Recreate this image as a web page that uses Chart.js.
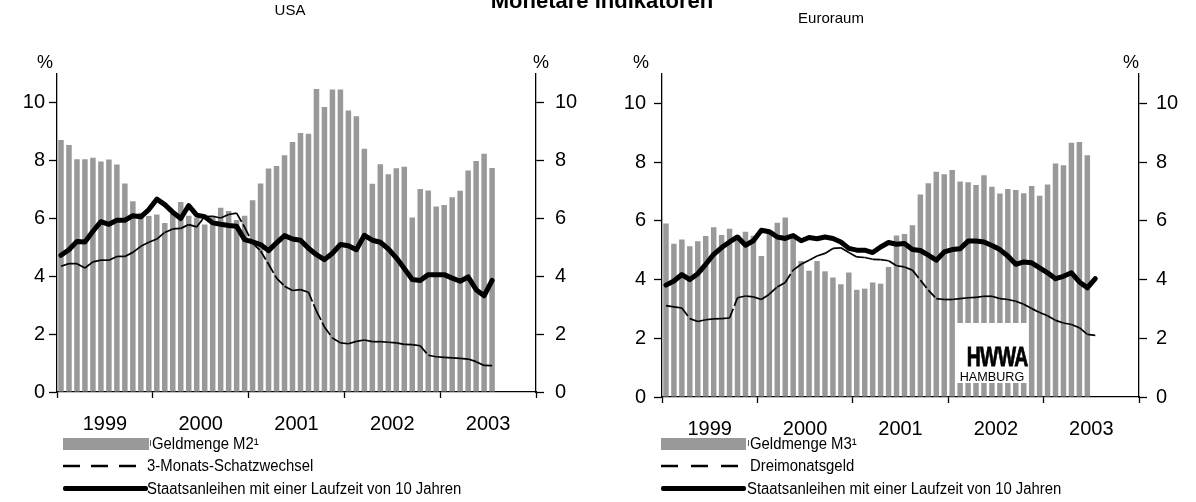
<!DOCTYPE html>
<html>
<head>
<meta charset="utf-8">
<script src="https://cdn.jsdelivr.net/npm/chart.js@4.4.1/dist/chart.umd.min.js"></script>
<style>
  body { margin: 0; width: 1196px; height: 502px; position: relative; overflow: hidden; background: #fff;
         font-family: "Liberation Sans", Arial, Helvetica, sans-serif; color: #000; }
  canvas { position: absolute; top: 0; }
  .txt { position: absolute; white-space: nowrap; line-height: 20px; }
  .leg { font-size: 16px; transform: scaleX(0.93); transform-origin: left center; }
  .mark { position: absolute; }
</style>
</head>
<body>
<canvas id="usaChart" width="598" height="502" style="left:0"></canvas>
<canvas id="euroChart" width="598" height="502" style="left:598px"></canvas>

<div class="txt" style="left:2px; width:1200px; text-align:center; top:-10px; font-weight:bold; font-size:22px; line-height:22px">Monetäre Indikatoren</div>
<div class="txt" style="left:190px; width:200px; text-align:center; top:0px; font-size:15px">USA</div>
<div class="txt" style="left:731px; width:200px; text-align:center; top:8px; font-size:15px">Euroraum</div>

<div class="txt" style="left:15px; width:60px; text-align:center; top:52px; font-size:18px">%</div>
<div class="txt" style="left:511px; width:60px; text-align:center; top:52px; font-size:18px">%</div>
<div class="txt" style="left:611px; width:60px; text-align:center; top:52px; font-size:18px">%</div>
<div class="txt" style="left:1101px; width:60px; text-align:center; top:52px; font-size:18px">%</div>

<!-- legends -->
<div class="mark" style="left:63px; top:438px; width:86px; height:12px; background:#999"></div>
<div class="mark" style="left:150px; top:440px; width:1px; height:6px; background:#555"></div>
<div class="txt leg" style="left:152px; top:434px">Geldmenge M2¹</div>
<svg class="mark" style="left:63px; top:461px" width="90" height="10"><line x1="0" y1="5" x2="78" y2="5" stroke="#000" stroke-width="2.5" stroke-dasharray="17 11"/></svg>
<div class="txt leg" style="left:147px; top:456px">3-Monats-Schatzwechsel</div>
<div class="mark" style="left:63px; top:486px; width:85px; height:5px; background:#000; border-radius:2px"></div>
<div class="txt leg" style="left:147px; top:479px">Staatsanleihen mit einer Laufzeit von 10 Jahren</div>

<div class="mark" style="left:661px; top:438px; width:85px; height:12px; background:#999"></div>
<div class="mark" style="left:748px; top:440px; width:1px; height:6px; background:#555"></div>
<div class="txt leg" style="left:750px; top:434px">Geldmenge M3¹</div>
<svg class="mark" style="left:661px; top:461px" width="90" height="10"><line x1="0" y1="5" x2="79" y2="5" stroke="#000" stroke-width="2.5" stroke-dasharray="17 13"/></svg>
<div class="txt leg" style="left:750px; top:456px">Dreimonatsgeld</div>
<div class="mark" style="left:661px; top:486px; width:85px; height:5px; background:#000; border-radius:2px"></div>
<div class="txt leg" style="left:747px; top:479px">Staatsanleihen mit einer Laufzeit von 10 Jahren</div>

<!-- HWWA logo -->
<div class="mark" style="left:957px; top:323px; width:70px; height:60px; background:#fff"></div>
<div class="txt" style="left:957px; width:70px; text-align:center; top:344px; font-size:27px; font-weight:bold; line-height:27px; letter-spacing:-1px; -webkit-text-stroke:0.8px #000; transform:scaleX(0.72)">HWWA</div>
<div class="txt" style="left:957px; width:70px; text-align:center; top:370px; font-size:13px; line-height:13px; transform:scaleX(0.97)">HAMBURG</div>

<script>
// Monatswerte Januar 1999 bis Juli 2003 (in %)
const yearLabels = ['1999', '2000', '2001', '2002', '2003']
const yTicks = [0, 2, 4, 6, 8, 10]

const usaM2 = [8.72, 8.54, 8.05, 8.05, 8.10, 7.97, 8.04, 7.87, 7.21, 6.60,
    6.20, 6.09, 6.14, 5.85, 6.25, 6.57, 6.10, 6.03, 5.79, 6.10,
    6.37, 6.26, 5.95, 6.10, 6.63, 7.21, 7.73, 7.82, 8.19, 8.65,
    8.96, 8.93, 10.48, 9.86, 10.46, 10.46, 9.74, 9.54, 8.41, 7.20,
    7.88, 7.53, 7.74, 7.79, 6.04, 7.02, 6.97, 6.42, 6.47, 6.74,
    6.96, 7.66, 7.99, 8.24, 7.75]
const usaBill = [4.35, 4.44, 4.44, 4.29, 4.50, 4.56, 4.56, 4.69, 4.69, 4.83,
    5.04, 5.18, 5.29, 5.52, 5.64, 5.66, 5.79, 5.71, 6.07, 6.08,
    6.02, 6.14, 6.19, 5.70, 5.15, 4.88, 4.42, 3.94, 3.66, 3.51,
    3.54, 3.45, 2.80, 2.25, 1.87, 1.70, 1.67, 1.75, 1.80, 1.74,
    1.74, 1.72, 1.70, 1.65, 1.64, 1.60, 1.27, 1.22, 1.20, 1.18,
    1.16, 1.14, 1.05, 0.92, 0.91]
const usaBond = [4.73, 4.92, 5.21, 5.19, 5.56, 5.89, 5.80, 5.94, 5.94, 6.10,
    6.06, 6.31, 6.67, 6.48, 6.22, 6.00, 6.45, 6.12, 6.06, 5.85,
    5.80, 5.76, 5.73, 5.27, 5.19, 5.10, 4.89, 5.16, 5.41, 5.29,
    5.25, 4.97, 4.75, 4.58, 4.80, 5.10, 5.06, 4.92, 5.42, 5.25,
    5.18, 4.95, 4.64, 4.27, 3.89, 3.86, 4.06, 4.06, 4.06, 3.94,
    3.83, 3.98, 3.54, 3.33, 3.86]

const euroM3 = [5.91, 5.22, 5.36, 5.13, 5.30, 5.48, 5.78, 5.52, 5.73, 5.50,
    5.63, 5.49, 4.80, 5.65, 5.93, 6.11, 5.45, 4.63, 4.30, 4.63,
    4.28, 4.07, 3.84, 4.24, 3.65, 3.69, 3.90, 3.86, 4.43, 5.50,
    5.55, 5.85, 6.90, 7.28, 7.67, 7.59, 7.73, 7.34, 7.31, 7.22,
    7.55, 7.16, 6.93, 7.08, 7.05, 6.94, 7.19, 6.85, 7.24, 7.95,
    7.89, 8.66, 8.68, 8.23]
const euroMoney = [3.11, 3.07, 3.03, 2.67, 2.57, 2.63, 2.66, 2.67, 2.69, 3.38,
    3.44, 3.41, 3.32, 3.50, 3.75, 3.90, 4.32, 4.52, 4.66, 4.80,
    4.89, 5.06, 5.08, 4.92, 4.77, 4.75, 4.69, 4.68, 4.64, 4.47,
    4.43, 4.32, 3.98, 3.64, 3.35, 3.32, 3.32, 3.35, 3.38, 3.39,
    3.43, 3.43, 3.35, 3.32, 3.26, 3.16, 3.01, 2.88, 2.77, 2.61,
    2.52, 2.47, 2.36, 2.13, 2.10]
const euroBond = [3.81, 3.95, 4.17, 4.00, 4.20, 4.52, 4.86, 5.09, 5.28, 5.45,
    5.17, 5.32, 5.68, 5.63, 5.45, 5.40, 5.50, 5.32, 5.43, 5.39,
    5.45, 5.40, 5.28, 5.06, 5.00, 5.00, 4.92, 5.11, 5.26, 5.20,
    5.23, 5.02, 4.99, 4.83, 4.66, 4.94, 5.02, 5.05, 5.31, 5.31,
    5.28, 5.16, 5.02, 4.80, 4.52, 4.60, 4.57, 4.40, 4.23, 4.03,
    4.11, 4.23, 3.92, 3.72, 4.03]

const fontFamily = '"Liberation Sans", Arial, Helvetica, sans-serif'

// Monat i liegt in der Mitte des i-ten Monatsfeldes
function toPoints(values) {
    return values.map((v, i) => ({ x: i + 0.5, y: v }))
}

function drawPanel(canvasId, bars, bill, bond, box) {
    const yAxis = (position, width, padding) => ({
        position: position,
        min: 0,
        max: 11,
        afterBuildTicks: s => { s.ticks = yTicks.map(v => ({ value: v })) },
        afterFit: s => { s.width = width },
        grid: { drawOnChartArea: false, tickLength: 8, tickColor: '#000', tickWidth: 1.3 },
        border: { color: '#000', width: 1.3 },
        ticks: { padding: padding, color: '#000', font: { size: 20, family: fontFamily } }
    })

    new Chart(canvasId, {
        type: 'bar',
        data: {
            datasets: [
                {
                    type: 'line', data: toPoints(bond), yAxisID: 'y',
                    borderColor: '#000', borderWidth: 5, pointRadius: 0, tension: 0,
                    borderJoinStyle: 'round', borderCapStyle: 'round', order: 1
                },
                {
                    type: 'line', data: toPoints(bill), yAxisID: 'y',
                    borderColor: '#000', borderWidth: 1.7, pointRadius: 0, tension: 0,
                    borderDash: [10, 3],
                    // Strichmuster beginnt bei jedem Teilstück neu
                    segment: { borderDashOffset: c => (c.p0DataIndex % 2 ? 0.01 : 0) },
                    order: 2
                },
                {
                    type: 'bar', data: toPoints(bars), yAxisID: 'y',
                    backgroundColor: '#999999', barPercentage: 0.69, categoryPercentage: 1, order: 3
                }
            ]
        },
        options: {
            responsive: false,
            animation: false,
            devicePixelRatio: 1,
            layout: { padding: { top: box.top, left: 0, right: 0, bottom: 0 } },
            plugins: { legend: { display: false }, tooltip: { enabled: false } },
            scales: {
                x: {
                    type: 'linear', min: 0, max: 60, offset: false,
                    afterBuildTicks: s => {
                        const t = []
                        for (let v = 0; v <= 60; v += 6) t.push({ value: v })
                        s.ticks = t
                    },
                    afterFit: s => { s.height = box.xh },
                    grid: {
                        drawOnChartArea: false, offset: false, tickLength: 6, tickWidth: 1.3,
                        tickColor: c => (c.tick && c.tick.value % 12 === 0 ? '#000' : 'rgba(0,0,0,0)')
                    },
                    border: { color: '#000', width: 1.3 },
                    ticks: {
                        autoSkip: false, maxRotation: 0, padding: 14, color: '#000',
                        font: { size: 20, family: fontFamily },
                        callback: v => (v % 12 === 6 ? yearLabels[(v - 6) / 12] : '')
                    }
                },
                y: yAxis('left', box.lw, box.lp),
                y2: yAxis('right', box.rw, box.rp)
            }
        }
    })
}

drawPanel('usaChart', usaM2, usaBill, usaBond, { top: 74, xh: 110, lw: 57, lp: 4, rw: 62, rp: 11 })
drawPanel('euroChart', euroM3, euroMoney, euroBond, { top: 74, xh: 105, lw: 64, lp: 8, rw: 57, rp: 9 })
</script>
</body>
</html>
